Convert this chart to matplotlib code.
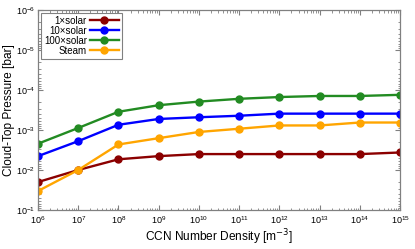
import matplotlib
matplotlib.use("Agg")
import matplotlib.pyplot as plt
import numpy as np

plt.rcParams["font.family"] = ["Liberation Sans", "DejaVu Sans"]

# CCN number density [m^-3]
ccn = [1e6, 1e7, 1e8, 1e9, 1e10, 1e11, 1e12, 1e13, 1e14, 1e15]

# cloud-top pressure [bar]
p_1x = [2.0e-2, 1.0e-2, 5.4e-3, 4.5e-3, 4.0e-3, 4.0e-3, 4.0e-3, 4.0e-3, 4.0e-3, 3.65e-3]
p_10x = [4.5e-3, 1.9e-3, 7.4e-4, 5.3e-4, 4.8e-4, 4.4e-4, 3.9e-4, 3.9e-4, 3.9e-4, 3.9e-4]
p_100x = [2.2e-3, 8.9e-4, 3.5e-4, 2.4e-4, 1.95e-4, 1.66e-4, 1.5e-4, 1.41e-4, 1.41e-4, 1.32e-4]
p_steam = [3.35e-2, 1.0e-2, 2.3e-3, 1.6e-3, 1.12e-3, 9.3e-4, 7.7e-4, 7.7e-4, 6.5e-4, 6.5e-4]

labels = ["1\u00d7solar", "10\u00d7solar", "100\u00d7solar", "Steam"]
colors = ["#8b0000", "#0000ff", "#228b22", "#ffa500"]

fig = plt.figure(figsize=(4.15, 2.49), dpi=100)
ax = fig.add_axes([38 / 415, 1 - 210 / 249, 362 / 415, 200 / 249])

for p, lab, c in zip([p_1x, p_10x, p_100x, p_steam], labels, colors):
    ax.plot(ccn, p, "-o", color=c, lw=1.7, ms=5, label=lab)

ax.set_xscale("log")
ax.set_yscale("log")
ax.set_xlim(1e6, 1e15)
ax.set_ylim(1e-1, 1e-6)
ax.set_xticks([10.0 ** k for k in range(6, 16)])
ax.set_yticks([10.0 ** k for k in range(-6, 0)])

grey = "#808080"
for s in ax.spines.values():
    s.set_color(grey)
    s.set_linewidth(0.9)
ax.tick_params(which="both", direction="in", top=True, right=True, color=grey,
               labelsize=6.5)
ax.tick_params(axis="x", pad=3)
ax.tick_params(axis="y", pad=2)
ax.tick_params(which="major", length=3.5)
ax.tick_params(which="minor", length=1.8)

ax.set_xlabel("CCN Number Density [m$^{-3}$]", fontsize=8.6, labelpad=1)
ax.set_ylabel("Cloud-Top Pressure [bar]", fontsize=8.6, labelpad=1)

leg = ax.legend(loc="upper left", markerfirst=False, fontsize=7, fancybox=False,
                framealpha=1, edgecolor=grey, borderpad=0.3, labelspacing=0.0,
                handlelength=3.0, handletextpad=0.3, borderaxespad=0.3)
leg.get_frame().set_linewidth(0.8)
for t in leg.get_texts():
    t.set_ha("right")

fig.savefig("out.png", dpi=100)
